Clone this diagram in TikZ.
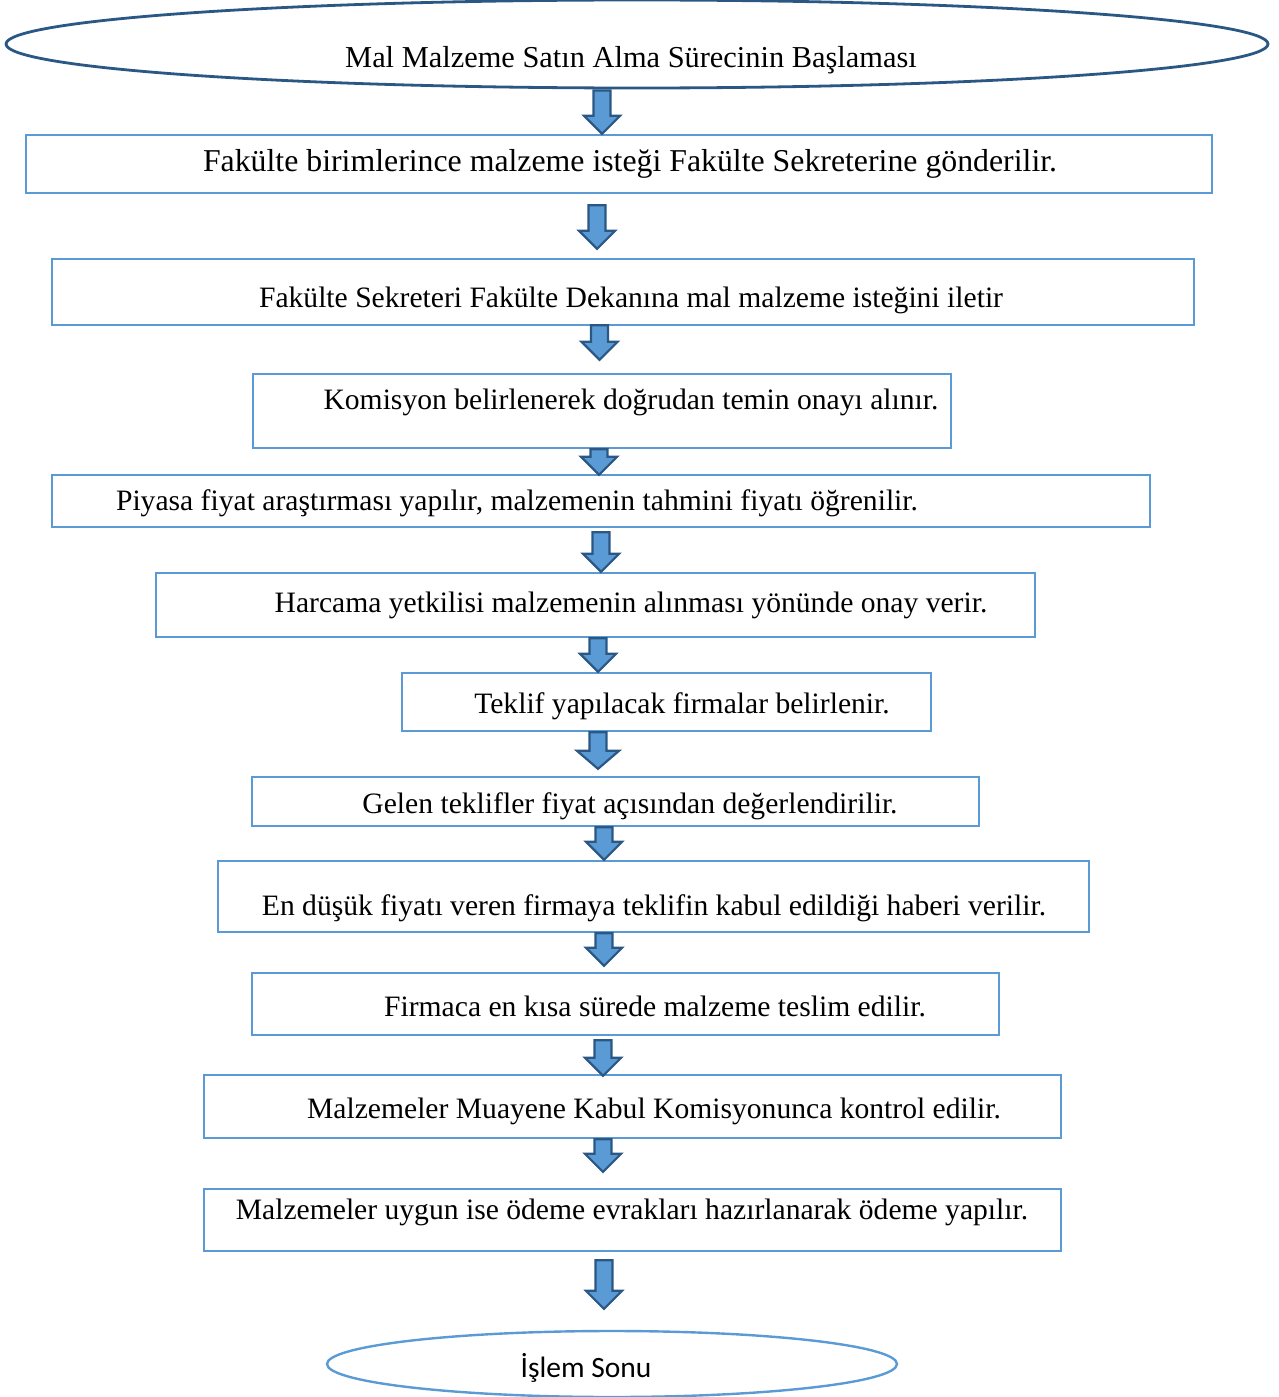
\documentclass[tikz,border=0pt]{standalone}
\usepackage{fontspec}
\setmainfont{Liberation Serif}
\newfontfamily\calibrilike{Carlito}
\usetikzlibrary{shapes.geometric,calc}

\definecolor{boxblue}{HTML}{5B9BD5}
\definecolor{darkblue}{HTML}{2A5783}
\definecolor{arrowedge}{HTML}{2B5784}

\tikzset{
  stepbox/.style={draw=boxblue, line width=2.4pt, inner sep=0pt, rectangle},
  startoval/.style={draw=darkblue, line width=2.8pt, ellipse, inner sep=0pt},
  endoval/.style={draw=boxblue, line width=2.4pt, ellipse, inner sep=0pt},
  steptext/.style={anchor=mid, inner sep=0pt, text=black,
    font=\fontsize{29.6}{32}\selectfont},
  blockarrow/.style={fill=boxblue, draw=arrowedge, line width=2.2pt, line join=miter},
}

% Block arrow between two nodes:
% #1 half head width, #2 from node, #3 to node, #4 x position,
% #5 gap below the source, #6 gap above the target
\newcommand\flowarrow[6][18]{%
  \draw[blockarrow] let \p1=(#2.south), \p2=(#3.north) in
    ({#4pt-8.5pt},{\y1-#5pt}) -- ({#4pt+8.5pt},{\y1-#5pt})
    -- ({#4pt+8.5pt},{\y2+#6pt+18pt}) -- ({#4pt+#1pt},{\y2+#6pt+18pt})
    -- ({#4pt},{\y2+#6pt}) -- ({#4pt-#1pt},{\y2+#6pt+18pt})
    -- ({#4pt-8.5pt},{\y2+#6pt+18pt}) -- cycle;}

\begin{document}
\begin{tikzpicture}[x=1pt,y=-1pt]
  \useasboundingbox (0,0) rectangle (1279,1397);

  % start and end ovals
  \node[startoval, minimum width=1262pt, minimum height=88pt] (s0) at (637,44) {};
  \node[endoval, minimum width=570pt, minimum height=66pt] (e0) at (612,1364) {};

  % process boxes
  \node[stepbox, minimum width=1186pt, minimum height=58pt] (b1) at (619,164) {};
  \node[stepbox, minimum width=1142pt, minimum height=66pt] (b2) at (623,292) {};
  \node[stepbox, minimum width=698pt,  minimum height=74pt] (b3) at (602,411) {};
  \node[stepbox, minimum width=1098pt, minimum height=52pt] (b4) at (601,501) {};
  \node[stepbox, minimum width=879pt,  minimum height=64pt] (b5) at (595.5,605) {};
  \node[stepbox, minimum width=529pt,  minimum height=58pt] (b6) at (666.5,702) {};
  \node[stepbox, minimum width=727pt,  minimum height=49pt] (b7) at (615.5,801.5) {};
  \node[stepbox, minimum width=871pt,  minimum height=71pt] (b8) at (653.5,896.5) {};
  \node[stepbox, minimum width=747pt,  minimum height=62pt] (b9) at (625.5,1004) {};
  \node[stepbox, minimum width=857pt,  minimum height=63pt] (b10) at (632.5,1106.5) {};
  \node[stepbox, minimum width=857pt,  minimum height=62pt] (b11) at (632.5,1220) {};

  % texts
  \node[steptext, font=\fontsize{30.4}{32}\selectfont] (t0) at (631,65) {Mal Malzeme Satın Alma Sürecinin Başlaması};
  \node[steptext, font=\fontsize{31.8}{34}\selectfont] (t1) at (630,169) {Fakülte birimlerince malzeme isteği Fakülte Sekreterine gönderilir.};
  \node[steptext] (t2) at (631,305) {Fakülte Sekreteri Fakülte Dekanına mal malzeme isteğini iletir};
  \node[steptext] (t3) at (631,407) {Komisyon belirlenerek doğrudan temin onayı alınır.};
  \node[steptext] (t4) at (517,508) {Piyasa fiyat araştırması yapılır, malzemenin tahmini fiyatı öğrenilir.};
  \node[steptext] (t5) at (631,610) {Harcama yetkilisi malzemenin alınması yönünde onay verir.};
  \node[steptext] (t6) at (682,711) {Teklif yapılacak firmalar belirlenir.};
  \node[steptext] (t7) at (630,811) {Gelen teklifler fiyat açısından değerlendirilir.};
  \node[steptext] (t8) at (654,913) {En düşük fiyatı veren firmaya teklifin kabul edildiği haberi verilir.};
  \node[steptext] (t9) at (655,1014) {Firmaca en kısa sürede malzeme teslim edilir.};
  \node[steptext] (t10) at (654,1116) {Malzemeler Muayene Kabul Komisyonunca kontrol edilir.};
  \node[steptext] (t11) at (632,1217) {Malzemeler uygun ise ödeme evrakları hazırlanarak ödeme yapılır.};
  \node[steptext, font=\calibrilike\fontsize{29.5}{32}\selectfont] (tE) at (586,1375) {İşlem Sonu};

  % flow arrows
  \flowarrow{s0}{b1}{602}{1}{0}
  \flowarrow{b1}{b2}{597}{11}{9}
  \flowarrow{b2}{b3}{599.5}{-1}{13}
  \flowarrow{b3}{b4}{599}{0}{-1}
  \flowarrow{b4}{b5}{601}{4}{0}
  \flowarrow{b5}{b6}{598}{0}{0}
  \flowarrow[21]{b6}{b7}{598}{0}{7}
  \flowarrow{b7}{b8}{604}{0}{0}
  \flowarrow{b8}{b9}{604}{0}{6}
  \flowarrow{b9}{b10}{603}{4}{-2}
  \flowarrow{b10}{b11}{603}{0}{16}
  \flowarrow{b11}{e0}{604}{8}{21}
\end{tikzpicture}
\end{document}
